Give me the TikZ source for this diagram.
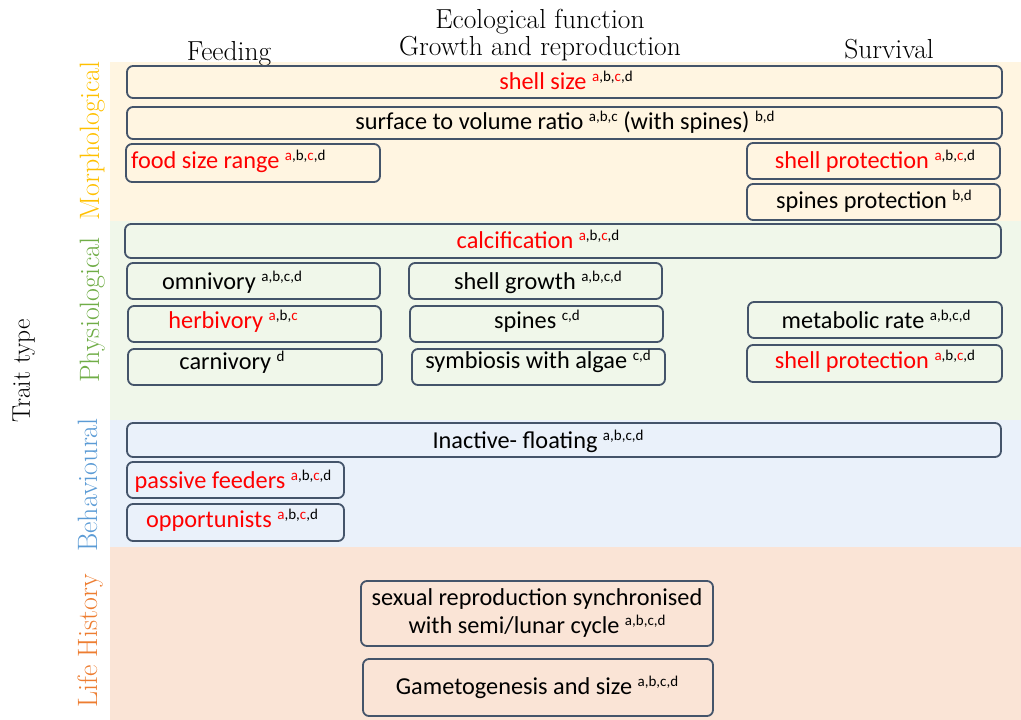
\documentclass[tikz,border=0pt]{standalone}
\usepackage{fontspec}
\newfontfamily\calfont{Carlito}
\usepackage{xcolor}
\definecolor{morphbg}{RGB}{255,245,225}
\definecolor{physbg}{RGB}{240,247,234}
\definecolor{behavbg}{RGB}{234,241,250}
\definecolor{lifebg}{RGB}{250,228,214}
\definecolor{morphfg}{RGB}{255,192,0}
\definecolor{physfg}{RGB}{112,173,71}
\definecolor{behavfg}{RGB}{91,155,213}
\definecolor{lifefg}{RGB}{237,125,49}
\definecolor{boxline}{RGB}{68,84,106}
\definecolor{redtxt}{RGB}{255,0,0}
\newcommand{\sps}[1]{\raisebox{7.5pt}{\fontsize{15}{15}\selectfont #1}}
\newcommand{\abcdR}{\sps{\textcolor{redtxt}{a}\textcolor{black}{,b,}\textcolor{redtxt}{c}\textcolor{black}{,d}}}
\newcommand{\abcdK}{\sps{a,b,c,d}}
\begin{document}
\begin{tikzpicture}[x=1pt,y=-1pt,
  tbox/.style={draw=boxline,line width=1.8pt,rounded corners=6pt,inner sep=0pt},
  ttxt/.style={font=\calfont\fontsize{24.3}{28}\selectfont,anchor=base,inner sep=0pt,text=black},
  rtxt/.style={ttxt,text=redtxt},
  head/.style={font=\fontsize{27.5}{30}\selectfont,anchor=base,inner sep=0pt},
  side/.style={font=\fontsize{28}{30}\selectfont,anchor=base,rotate=90,inner sep=0pt}]
\useasboundingbox (0,0) rectangle (1021,720);
% bands
\fill[morphbg] (110,62) rectangle (1021,221);
\fill[physbg] (110,221) rectangle (1021,420);
\fill[behavbg] (110,420) rectangle (1021,547);
\fill[lifebg] (110,547) rectangle (1021,720);
% headers
\node[head] (eco) at (540,28) {Ecological function};
\node[head] (grow) at (540,56) {Growth and reproduction};
\node[head] (feed) at (229,60) {Feeding};
\node[head] (surv) at (889,58) {Survival};
% side labels
\node[side,text=morphfg] (morph) at (99,141) {Morphological};
\node[side,text=physfg] (phys) at (99,310) {Physiological};
\node[side,text=behavfg] (behav) at (97,485) {Behavioural};
\node[side,text=lifefg] (life) at (97,641) {Life History};
\node[side,font=\fontsize{25.5}{28}\selectfont] (trait) at (30,371) {Trait type};
% Morphological boxes
\draw[tbox] (127,66) rectangle (1002,98);
\node[rtxt] (shellsize) at (566,89) {shell size \abcdR};
\draw[tbox] (127,107) rectangle (1002,139);
\node[ttxt] (surface) at (565,129) {surface to volume ratio \sps{a,b,c} (with spines) \sps{b,d}};
\draw[tbox] (126,144) rectangle (380,182);
\node[rtxt,anchor=base west] (foodsize) at (131,168) {food size range \abcdR};
\draw[tbox] (747,143) rectangle (1000,179);
\node[rtxt] (shellprotA) at (875,168) {shell protection \abcdR};
\draw[tbox] (747,184) rectangle (1000,220);
\node[ttxt] (spinesprot) at (874,208) {spines protection \sps{b,d}};
% Physiological boxes
\draw[tbox] (125,224) rectangle (1001,258);
\node[rtxt] (calc) at (538,248) {calcification \abcdR};
\draw[tbox] (127,263) rectangle (380,299);
\node[ttxt] (omni) at (232,289) {omnivory \abcdK};
\draw[tbox] (128,306) rectangle (381,342);
\node[rtxt] (herbi) at (233,328) {herbivory \sps{\textcolor{redtxt}{a}\textcolor{black}{,b,}\textcolor{redtxt}{c}}};
\draw[tbox] (128,349) rectangle (382,385);
\node[ttxt] (carni) at (232,369) {carnivory \sps{d}};
\draw[tbox] (409,263) rectangle (662,299);
\node[ttxt] (shellgrowth) at (538,289) {shell growth \abcdK};
\draw[tbox] (410,306) rectangle (663,342);
\node[ttxt] (spines) at (537,328) {spines \sps{c,d}};
\draw[tbox] (412,349) rectangle (665,385);
\node[ttxt] (symb) at (538,368) {symbiosis with algae \sps{c,d}};
\draw[tbox] (748,302) rectangle (1002,338);
\node[ttxt] (metab) at (876,328) {metabolic rate \abcdK};
\draw[tbox] (747,345) rectangle (1002,382);
\node[rtxt] (shellprotB) at (875,368) {shell protection \abcdR};
% Behavioural boxes
\draw[tbox] (127,423) rectangle (1001,457);
\node[ttxt] (inactive) at (538,448) {Inactive- floating \abcdK};
\draw[tbox] (127,462) rectangle (344,498);
\node[rtxt] (passive) at (233,488) {passive feeders \abcdR};
\draw[tbox] (127,504) rectangle (344,541);
\node[rtxt] (opport) at (232,527) {opportunists \abcdR};
% Life history boxes
\draw[tbox] (361,581) rectangle (713,646);
\node[ttxt,align=center] (sexual) at (537,633) {sexual reproduction synchronised\\with semi/lunar cycle \abcdK};
\draw[tbox] (363,659) rectangle (713,716);
\node[ttxt] (gameto) at (537,694) {Gametogenesis and size \abcdK};
\end{tikzpicture}
\end{document}
